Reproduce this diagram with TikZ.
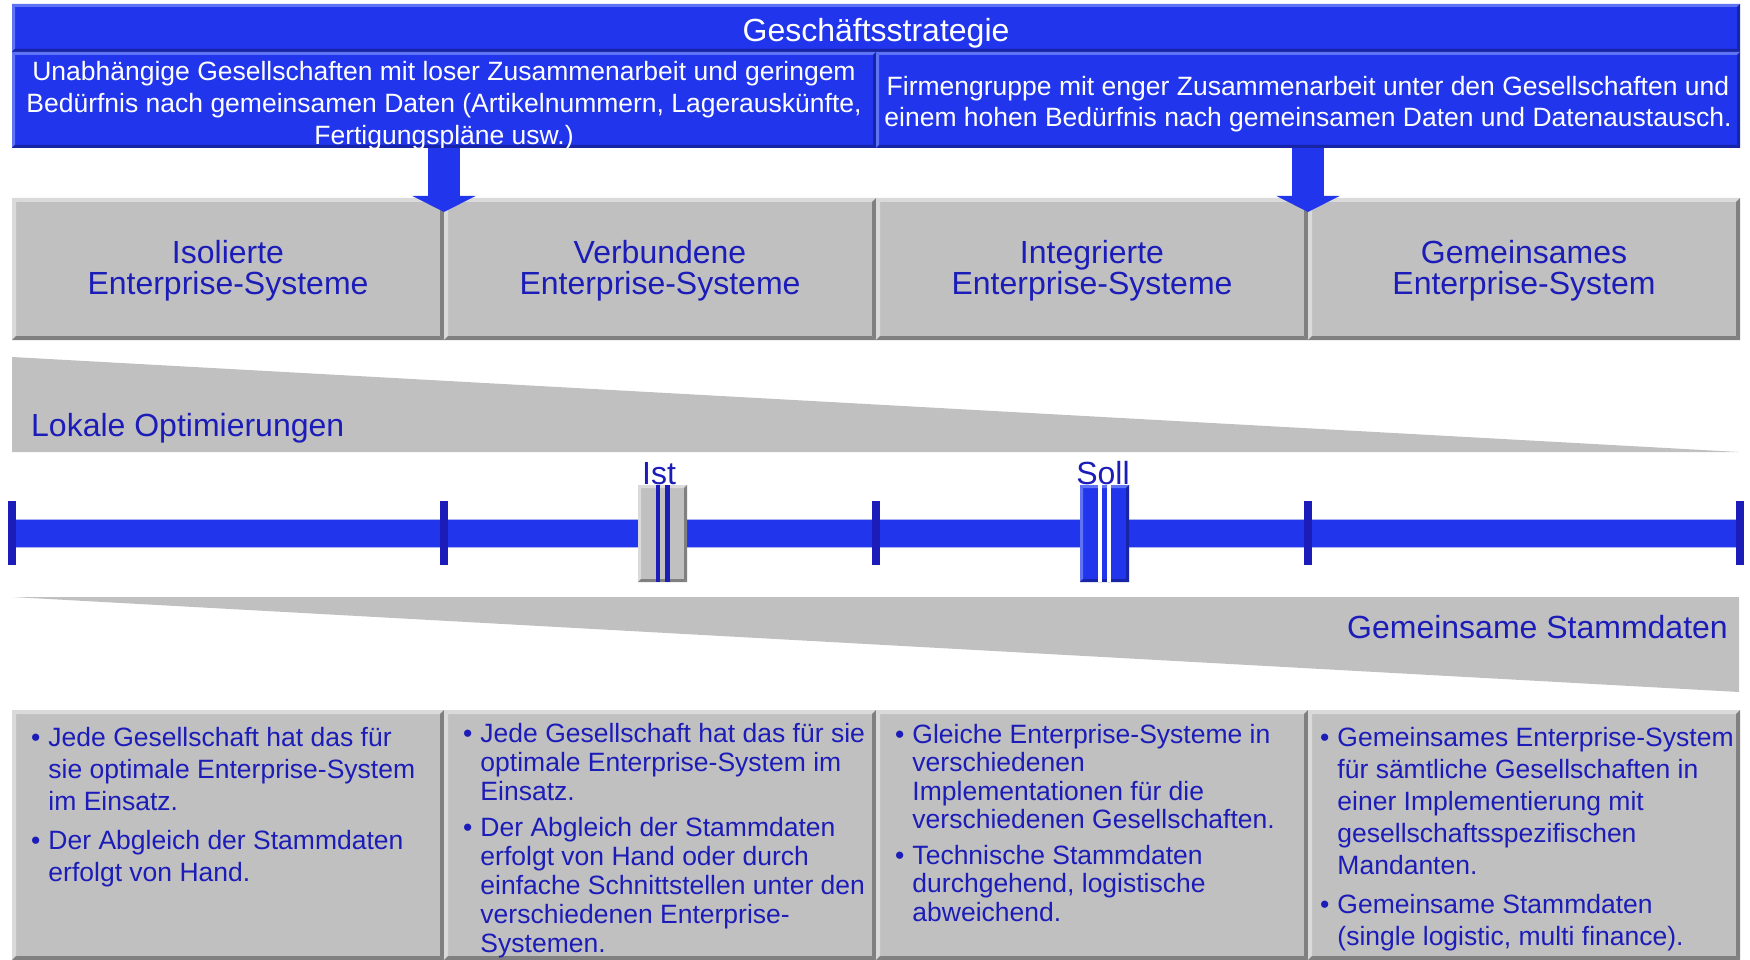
\documentclass[tikz,border=0pt]{standalone}
\usepackage{fontspec}
\setmainfont{Liberation Sans}
\usetikzlibrary{arrows.meta}
\definecolor{barblue}{RGB}{32,53,236}
\definecolor{bluelight}{RGB}{95,115,245}
\definecolor{bluedark}{RGB}{22,36,165}
\definecolor{boxgray}{RGB}{192,192,192}
\definecolor{graylight}{RGB}{218,218,218}
\definecolor{graydark}{RGB}{128,128,128}
\definecolor{textblue}{RGB}{28,28,184}
\definecolor{baredge}{RGB}{170,180,245}
\newcommand\FontTitle{\fontsize{32}{31}\selectfont}
\newcommand\FontBodyA{\fontsize{26.5}{32}\selectfont}
\newcommand\FontBodyB{\fontsize{26.5}{29}\selectfont}
\newcommand\FontBodyC{\fontsize{26.5}{28.5}\selectfont}
\tikzset{
  bevel/.style n args={3}{path picture={
    \fill[#1] (path picture bounding box.north west) -- (path picture bounding box.north east)
      -- ([shift={(-#3,-#3)}]path picture bounding box.north east)
      -- ([shift={(#3,-#3)}]path picture bounding box.north west) -- cycle;
    \fill[#1] (path picture bounding box.north west) -- (path picture bounding box.south west)
      -- ([shift={(#3,#3)}]path picture bounding box.south west)
      -- ([shift={(#3,-#3)}]path picture bounding box.north west) -- cycle;
    \fill[#2] (path picture bounding box.south west) -- (path picture bounding box.south east)
      -- ([shift={(-#3,#3)}]path picture bounding box.south east)
      -- ([shift={(#3,#3)}]path picture bounding box.south west) -- cycle;
    \fill[#2] (path picture bounding box.north east) -- (path picture bounding box.south east)
      -- ([shift={(-#3,#3)}]path picture bounding box.south east)
      -- ([shift={(-#3,-#3)}]path picture bounding box.north east) -- cycle;
  }},
  boxbase/.style={anchor=north west, inner sep=0pt, outer sep=0pt, draw=none, align=center},
  graybox/.style={boxbase, fill=boxgray, bevel={graylight}{graydark}{4pt}, text=textblue, font=\FontTitle},
  bluebox/.style={boxbase, fill=barblue, bevel={bluelight}{bluedark}{3pt}, text=white},
  boxtext/.style={inner sep=0pt, align=center},
  arr/.style={draw=barblue, line width=32pt, -{Triangle[width=63pt,length=16pt,line width=0pt]}},
  tick/.style={draw=textblue, line width=8pt},
  lbl/.style={text=textblue, font=\FontTitle, inner sep=0pt},
  bul/.style={text=textblue, inner sep=0pt, anchor=base west},
}
\begin{document}
\begin{tikzpicture}[x=1pt,y=-1pt]
\useasboundingbox (0,0) rectangle (1750,960);
% strategy
\node[bluebox, minimum width=1728pt, minimum height=48pt] (strat) at (12,4) {};
\node[boxtext, text=white, font=\FontTitle] (stratt) at ([yshift=-5.5pt]strat.center) {Geschäftsstrategie};
\node[bluebox, minimum width=864pt, minimum height=96pt] (s1) at (12,52) {};
\node[boxtext, text=white, font=\fontsize{26.5}{32}\selectfont] (s1t) at ([yshift=-5.5pt]s1.center)
  {Unabhängige Gesellschaften mit loser Zusammenarbeit und geringem\\Bedürfnis nach gemeinsamen Daten (Artikelnummern, Lagerauskünfte,\\Fertigungspläne usw.)};
\node[bluebox, minimum width=864pt, minimum height=96pt] (s2) at (876,52) {};
\node[boxtext, text=white, font=\fontsize{26.5}{31}\selectfont] (s2t) at ([yshift=-4.5pt]s2.center)
  {Firmengruppe mit enger Zusammenarbeit unter den Gesellschaften und\\einem hohen Bedürfnis nach gemeinsamen Daten und Datenaustausch.};
% system boxes
\node[graybox, minimum width=432pt, minimum height=142pt] (g1) at (12,198) {};
\node[graybox, minimum width=432pt, minimum height=142pt] (g2) at (444,198) {};
\node[graybox, minimum width=432pt, minimum height=142pt] (g3) at (876,198) {};
\node[graybox, minimum width=432pt, minimum height=142pt] (g4) at (1308,198) {};
\node[boxtext, text=textblue, font=\FontTitle] (g1t) at ([yshift=-2pt]g1.center) {Isolierte\\Enterprise-Systeme};
\node[boxtext, text=textblue, font=\FontTitle] (g2t) at ([yshift=-2pt]g2.center) {Verbundene\\Enterprise-Systeme};
\node[boxtext, text=textblue, font=\FontTitle] (g3t) at ([yshift=-2pt]g3.center) {Integrierte\\Enterprise-Systeme};
\node[boxtext, text=textblue, font=\FontTitle] (g4t) at ([yshift=-2pt]g4.center) {Gemeinsames\\Enterprise-System};
% arrows
\coordinate (t1) at (444,212);
\coordinate (t2) at (1308,212);
\draw[arr] (s1.south) -- (t1);
\draw[arr] (s2.south) -- (t2);
% wedges
\fill[boxgray] (12,357) -- (1739,452) -- (12,452) -- cycle;
\fill[boxgray] (12,597) -- (1739,597) -- (1739,692) -- cycle;
\node[lbl, anchor=base west] (lok) at (31,436) {Lokale Optimierungen};
\node[lbl, anchor=base east] (gem) at (1728,638) {Gemeinsame Stammdaten};
% timeline
\node[fill=barblue, draw=baredge, line width=1pt, inner sep=0pt, outer sep=0pt, minimum width=1727pt, minimum height=28pt, anchor=north west] (bar) at (12,519) {};
\draw[tick] (12,501) -- (12,565);
\draw[tick] (444,501) -- (444,565);
\draw[tick] (876,501) -- (876,565);
\draw[tick] (1308,501) -- (1308,565);
\draw[tick] (1740,501) -- (1740,565);
% markers
\node[boxbase, fill=boxgray, bevel={graylight}{graydark}{3pt}, minimum width=49pt, minimum height=97pt] (ist) at (638,485) {};
\fill[textblue] (655.5,485) rectangle (660,582);
\fill[textblue] (665,485) rectangle (669.5,582);
\node[boxbase, fill=barblue, bevel={bluelight}{bluedark}{3pt}, minimum width=49pt, minimum height=97pt] (soll) at (1080,485) {};
\fill[white] (1097.5,485) rectangle (1102,582);
\fill[white] (1106.5,485) rectangle (1111,582);
\node[lbl, anchor=base] (istl) at (659,484) {Ist};
\node[lbl, anchor=base] (solll) at (1103,484) {Soll};
% bottom boxes
\node[graybox, minimum width=432pt, minimum height=250pt] (d1) at (12,710) {};
\node[graybox, minimum width=432pt, minimum height=250pt] (d2) at (444,710) {};
\node[graybox, minimum width=432pt, minimum height=250pt] (d3) at (876,710) {};
\node[graybox, minimum width=432pt, minimum height=250pt] (d4) at (1308,710) {};
\node[bul, font=\FontBodyA] (b1) at (31,746) {\begin{tabular}[t]{@{}l@{\hspace{8pt}}l@{}}
•&Jede Gesellschaft hat das für\\
&sie optimale Enterprise-System\\
&im Einsatz.\\[7pt]
•&Der Abgleich der Stammdaten\\
&erfolgt von Hand.
\end{tabular}};
\node[bul, font=\FontBodyB] (b2) at (463,742) {\begin{tabular}[t]{@{}l@{\hspace{8pt}}l@{}}
•&Jede Gesellschaft hat das für sie\\
&optimale Enterprise-System im\\
&Einsatz.\\[7pt]
•&Der Abgleich der Stammdaten\\
&erfolgt von Hand oder durch\\
&einfache Schnittstellen unter den\\
&verschiedenen Enterprise-\\
&Systemen.
\end{tabular}};
\node[bul, font=\FontBodyC] (b3) at (895,743) {\begin{tabular}[t]{@{}l@{\hspace{8pt}}l@{}}
•&Gleiche Enterprise-Systeme in\\
&verschiedenen\\
&Implementationen für die\\
&verschiedenen Gesellschaften.\\[7pt]
•&Technische Stammdaten\\
&durchgehend, logistische\\
&abweichend.
\end{tabular}};
\node[bul, font=\FontBodyA] (b4) at (1320,746) {\begin{tabular}[t]{@{}l@{\hspace{8pt}}l@{}}
•&Gemeinsames Enterprise-System\\
&für sämtliche Gesellschaften in\\
&einer Implementierung mit\\
&gesellschaftsspezifischen\\
&Mandanten.\\[7pt]
•&Gemeinsame Stammdaten\\
&(single logistic, multi finance).
\end{tabular}};
\end{tikzpicture}
\end{document}
